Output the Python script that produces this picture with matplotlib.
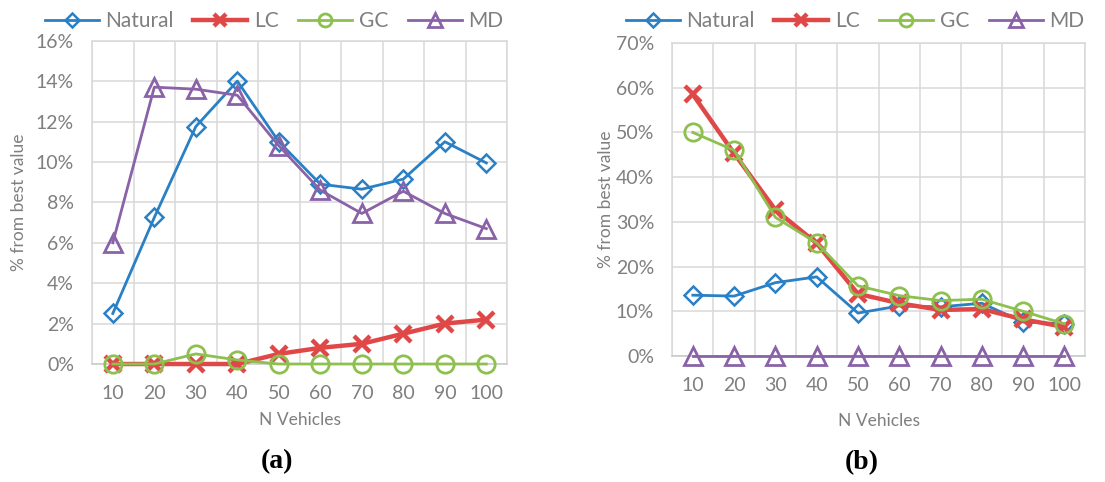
import matplotlib
matplotlib.use("Agg")
import matplotlib.pyplot as plt
from matplotlib.ticker import FixedLocator, FuncFormatter

# ---- data ----
n_vehicles = [10, 20, 30, 40, 50, 60, 70, 80, 90, 100]
series_names = ["Natural", "LC", "GC", "MD"]

a_natural = [2.5, 7.25, 11.75, 14.0, 11.0, 8.9, 8.65, 9.15, 11.0, 9.95]
a_lc = [0.0, 0.0, 0.0, 0.0, 0.5, 0.8, 1.0, 1.5, 2.0, 2.2]
a_gc = [0.0, 0.0, 0.5, 0.2, 0.0, 0.0, 0.0, 0.0, 0.0, 0.0]
a_md = [6.0, 13.7, 13.6, 13.3, 10.8, 8.6, 7.45, 8.55, 7.45, 6.7]

b_natural = [13.6, 13.4, 16.4, 17.7, 9.6, 11.2, 11.0, 11.8, 7.6, 7.2]
b_lc = [58.5, 45.3, 32.7, 25.2, 13.9, 11.8, 10.3, 10.5, 8.2, 6.5]
b_gc = [50.0, 46.0, 31.0, 25.3, 15.7, 13.5, 12.4, 12.7, 10.0, 7.2]
b_md = [0, 0, 0, 0, 0, 0, 0, 0, 0, 0]

a_yticks = [0, 2, 4, 6, 8, 10, 12, 14, 16]
b_yticks = [0, 10, 20, 30, 40, 50, 60, 70]

# ---- style ----
FONT = ["Lato", "DejaVu Sans"]
plt.rcParams['font.family'] = FONT
GRAY = "#7F7F7F"
GRID = "#D9D9D9"
TICK_FS = 14
LABEL_FS = 12.5
styles = {
    "Natural": dict(color="#2A80C4", marker="D", ms=9, lw=2.0, mew=1.8),
    "LC": dict(color="#E04848", marker="x", ms=11, lw=3.2, mew=3.2),
    "GC": dict(color="#8DC04E", marker="o", ms=12.5, lw=2.0, mew=2.0),
    "MD": dict(color="#8A62A8", marker="^", ms=13, lw=2.0, mew=2.0),
}

fig = plt.figure(figsize=(11.05, 4.82), dpi=100)
ax_a = fig.add_axes([0.0833, 0.2448, 0.3756, 0.6708])
ax_b = fig.add_axes([0.6083, 0.2614, 0.3736, 0.6494])


def draw(ax, data, yticks):
    handles = []
    for name, vals in zip(series_names, data):
        st = styles[name]
        h, = ax.plot(n_vehicles, vals, color=st["color"], lw=st["lw"],
                     marker=st["marker"], ms=st["ms"], mew=st["mew"],
                     mfc="none", mec=st["color"], label=name, zorder=3,
                     clip_on=False)
        handles.append(h)
    ax.set_xlim(5, 105)
    ax.set_ylim(yticks[0], yticks[-1])
    ax.xaxis.set_major_locator(FixedLocator(n_vehicles))
    ax.xaxis.set_minor_locator(FixedLocator([x - 5 for x in n_vehicles] + [105]))
    ax.yaxis.set_major_locator(FixedLocator(yticks))
    ax.yaxis.set_major_formatter(FuncFormatter(lambda v, p: f"{int(round(v))}%"))
    ax.grid(which="minor", axis="x", color=GRID, lw=1.1, zorder=0)
    ax.grid(which="major", axis="y", color=GRID, lw=1.1, zorder=0)
    ax.set_axisbelow(True)
    ax.tick_params(which="both", length=0)
    ax.tick_params(axis="x", pad=15, labelsize=TICK_FS, labelcolor=GRAY)
    ax.tick_params(axis="y", pad=13, labelsize=TICK_FS, labelcolor=GRAY)
    for s in ax.spines.values():
        s.set_color(GRID)
        s.set_linewidth(1.1)
    ax.spines["bottom"].set_color("#C8C8C8")
    ax.set_xlabel("N Vehicles", fontsize=LABEL_FS, color=GRAY)
    ax.set_ylabel("% from best value", fontsize=LABEL_FS, color=GRAY)
    return handles


ha = draw(ax_a, [a_natural, a_lc, a_gc, a_md], a_yticks)
hb = draw(ax_b, [b_natural, b_lc, b_gc, b_md], b_yticks)

for handles, cx in [(ha, 274 / 1105), (hb, 855 / 1105)]:
    fig.legend(handles, series_names, loc="center", ncol=4,
               bbox_to_anchor=(cx, 1 - 21 / 482), frameon=False,
               fontsize=15, labelcolor=GRAY, handlelength=2.6,
               handletextpad=0.3, columnspacing=0.95, borderpad=0,
               markerscale=0.75)

ax_a.yaxis.set_label_coords(-0.157, 0.5)
ax_b.yaxis.set_label_coords(-0.142, 0.5)
ax_a.xaxis.set_label_coords(0.5, -0.1475)
ax_b.xaxis.set_label_coords(0.5, -0.181)

fig.text(277 / 1105, 1 - 462 / 482, "(a)", ha="center", va="center",
         fontsize=20, fontweight="bold", family=["Liberation Serif", "DejaVu Serif"])
fig.text(862 / 1105, 1 - 463 / 482, "(b)", ha="center", va="center",
         fontsize=20, fontweight="bold", family=["Liberation Serif", "DejaVu Serif"])

fig.savefig("out.png", dpi=100)
